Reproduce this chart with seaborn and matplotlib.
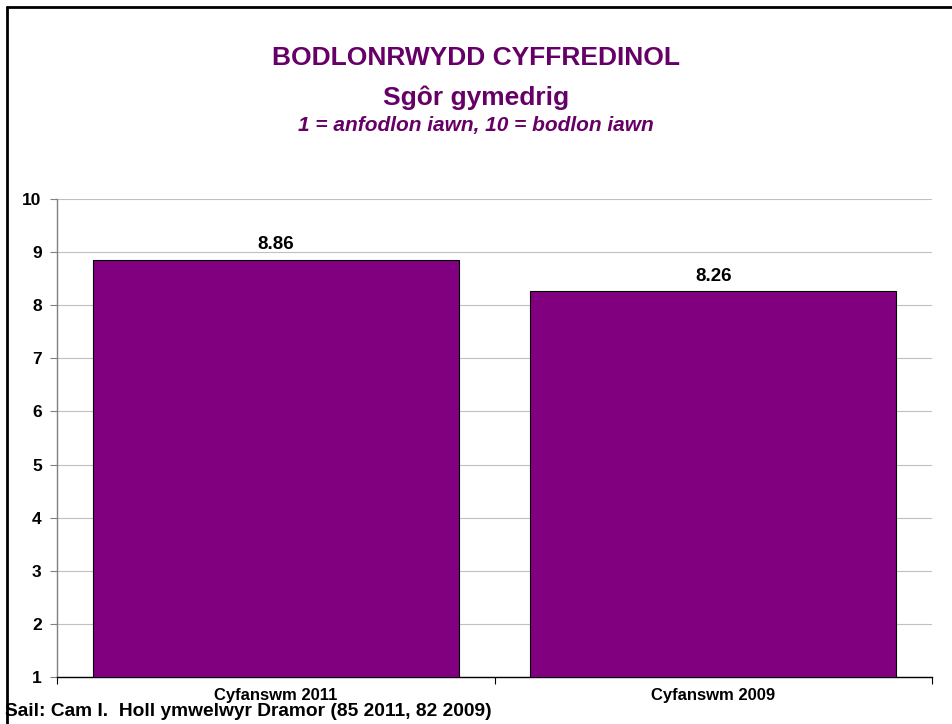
import matplotlib
matplotlib.use("Agg")
import matplotlib.pyplot as plt
from matplotlib.lines import Line2D
import seaborn as sns
import pandas as pd

# chart data
categories = ["Cyfanswm 2011", "Cyfanswm 2009"]
scores = [8.86, 8.26]
y_ticks = [1, 2, 3, 4, 5, 6, 7, 8, 9, 10]

title = "BODLONRWYDD CYFFREDINOL"
subtitle = "Sgôr gymedrig"
scale_note = "1 = anfodlon iawn, 10 = bodlon iawn"
source_note = "Sail: Cam I.  Holl ymwelwyr Dramor (85 2011, 82 2009)"

bar_color = "#800080"
title_color = "#660066"

sns.set_theme(style="white")
plt.rcParams["font.family"] = ["Liberation Sans", "DejaVu Sans"]

df = pd.DataFrame({"category": categories, "score": scores})

W, H = 952, 724
fig = plt.figure(figsize=(W / 100, H / 100), dpi=100)
ax = fig.add_axes([57 / W, 1 - 677 / H, (932 - 57) / W, (677 - 199) / H])

sns.barplot(data=df, x="category", y="score", color=bar_color, saturation=1,
            width=0.836, edgecolor="black", linewidth=0.8, ax=ax, zorder=3)

ax.set_ylim(1, 10)
ax.set_xlim(-0.5, 1.5)
ax.set_yticks(y_ticks)
ax.set_yticklabels([str(t) for t in y_ticks], fontweight="bold", fontsize=12.5,
                   color="black")
ax.yaxis.grid(True, color="#c0c0c0", linewidth=0.8, zorder=0)
ax.set_axisbelow(True)
ax.tick_params(axis="y", direction="out", length=5, width=0.8, color="#808080",
               pad=6, left=True)

# x ticks at category boundaries, labels centered
ax.set_xticks([-0.5, 0.5, 1.5])
ax.set_xticklabels(["", "", ""])
ax.set_xticks([0, 1], minor=True)
ax.set_xticklabels(categories, minor=True, fontweight="bold", fontsize=12,
                   color="black")
ax.tick_params(axis="x", which="major", direction="out", length=5, width=0.8,
               color="black", bottom=True)
ax.tick_params(axis="x", which="minor", length=0, pad=8)
ax.set_xlabel("")
ax.set_ylabel("")

for side in ["top", "right"]:
    ax.spines[side].set_visible(False)
ax.spines["left"].set_color("#808080")
ax.spines["left"].set_linewidth(1)
ax.spines["bottom"].set_color("black")
ax.spines["bottom"].set_linewidth(1)

for i, v in enumerate(scores):
    ax.text(i, v + 0.12, f"{v:.2f}", ha="center", va="bottom",
            fontsize=13.5, fontweight="bold", color="black")

fig.text(0.5, 1 - 58 / H, title, ha="center", va="center", fontsize=19,
         fontweight="bold", color=title_color)
fig.text(0.5, 1 - 98 / H, subtitle, ha="center", va="center", fontsize=19,
         fontweight="bold", color=title_color)
fig.text(0.5, 1 - 126 / H, scale_note, ha="center", va="center", fontsize=15,
         fontweight="bold", fontstyle="italic", color=title_color)
fig.text(5 / W, 1 - 711 / H, source_note, ha="left", va="center", fontsize=13.8,
         fontweight="bold", color="black")

# frame lines on left and top
fig.add_artist(Line2D([7 / W, 7 / W], [0, 1 - 7 / H], transform=fig.transFigure,
                      color="black", linewidth=2))
fig.add_artist(Line2D([7 / W, 1], [1 - 7 / H, 1 - 7 / H], transform=fig.transFigure,
                      color="black", linewidth=2))

fig.savefig("out.png", dpi=100)
